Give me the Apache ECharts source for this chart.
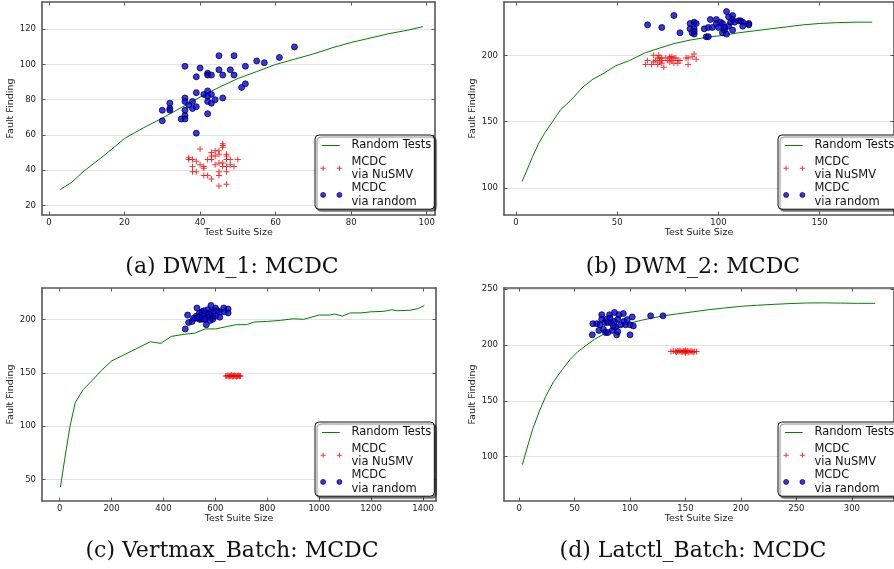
<!DOCTYPE html>
<html>
<head>
<meta charset="utf-8">
<script src="https://cdn.jsdelivr.net/npm/echarts@6/dist/echarts.min.js"></script>
<style>
    html, body { margin: 0; padding: 0; background: #fff; }
    #chart { width: 894px; height: 569px; }
</style>
</head>
<body>
<div id="chart"></div>
<script>
// (a) DWM_1
var dwm1Random = [[3,29],[6,33],[9,39],[12,44],[15,49],[20,58],[25,64],[30,69.5],[35,75.5],[40,81.5],[45,87],[50,92],
    [55,96],[60,100],[65,103],[70,106],[75,109.5],[80,112.5],[85,115],[90,117.5],[95,119.5],[99,121.5]];
var dwm1Nusmv = [[40,52],[46,55],[46,54],[46,53],[43,50],[44,51],[45,51],[44,48],[45,49],[47,49],[47,48],[47,46],
    [37,47],[37,46],[38,46],[42,46],[43,46],[48,46],[50,46],[46,44],[45,44],[44,43],[39,45],[40,43],[38,42],[49,42],
    [41,42],[41,41],[48,43],[46,42],[47,42],[38,39],[39,39],[45,39],[47,39],[41,37],[42,37],[45,37],[43,35],[47,32],
    [45,31],[43,48]];
var dwm1Mcdc = [[30,74],[30,68],[32,78],[32,75],[32,74],[35,69],[36,99],[36,81],[36,79],[36,74],[36,71],[36,69],
    [37,77],[38,79],[38,75],[39,93],[39,84],[39,76],[39,61],[40,98],[41,83],[42,95],[42,94],[42,85],[42,82],[42,79],
    [42,72],[43,94],[43,83],[43,78],[44,80],[45,105],[45,97],[46,94],[46,81],[48,97],[49,105],[49,94],[51,87],[52,99],
    [52,89],[55,102],[57,101],[61,104],[65,110]];
var dwm1XTicks = [0, 20, 40, 60, 80, 100];
var dwm1YTicks = [20, 40, 60, 80, 100, 120];

// (b) DWM_2
var dwm2Random = [[3,105],[5,112],[8,123],[11,133],[14,141],[18,150],[22,159],[27,166],[33,176],[38,182],[44,187],
    [49,192],[56,196],[64,202],[71,205.5],[78.5,209],[86,211.5],[94.5,213.6],[102,215],[110,217],[118,218.5],
    [126,220],[134,221.5],[142,223],[150,224],[158,224.6],[168,225],[176,225]];
var dwm2Nusmv = [[64,193],[65,196],[67,193],[68,200],[68,195],[69,196],[70,198],[70,193],[70.5,200],[71,195],
    [71,198],[72,194],[72,198],[72,196],[73,191],[74,198],[75,196],[76,198],[76,199],[77,199],[77,196],[78,198],
    [79,198],[80,194],[80,196],[81,196],[84,198],[85,193],[85,198],[87,199],[88,201],[89,197],[78,194],[76,195]];
var dwm2Mcdc = [[65,223],[72,221],[78,230],[81,217],[86,220],[86,224],[88,225],[88,220],[88,216],[88,218],[89,224],
    [87,217],[93,220],[94,214],[95,214],[95,221],[96,227],[97,221],[99,227],[99,224],[100,221],[101,225],[102,224],
    [102,217],[103,219],[104,233],[104,216],[105,229],[105,222],[106,225],[107,230],[107,227],[107,219],[108,225],
    [110,226],[111,226],[112,225],[112,222],[115,224],[115,223],[103,221]];
var dwm2XTicks = [0, 50, 100, 150];
var dwm2YTicks = [100, 150, 200];

// (c) Vertmax_Batch
var vertmaxRandom = [[3,43],[20,70],[40,100],[60,122],[90,134],[130,144],[160,152],[200,161],[250,167],[300,173],
    [350,179],[390,177.5],[430,184],[480,186],[520,187],[560,191],[600,191],[640,193],[680,195],[720,195],[750,197.5],
    [800,198],[850,199],[900,200.5],[940,200],[1000,204],[1040,204],[1060,205],[1090,203],[1120,206],[1160,206],
    [1200,207],[1250,207.5],[1280,209],[1300,208],[1350,208.5],[1380,210],[1405,213]];
var vertmaxNusmv = [[640,147],[644,147],[648,147.5],[652,146.5],[655,147],[658,147],[661,148],[664,147],[667,146.5],
    [670,147],[673,147.5],[676,147],[679,147],[682,146.5],[685,147],[688,147.5],[691,147],[694,147],[696,147]];
var vertmaxMcdc = [[484,191],[493,204],[497,197],[510,198],[516,201],[527,203],[529,210.6],[539,206],[539,200],
    [548,207],[548,203],[557,200],[565,206],[565,195],[570,209],[574,202],[583,213],[583,206.5],[591,203],[600,210.6],
    [609,208],[617,206.5],[617,202],[632,210.6],[635,207],[649,209.6],[649,206],[545,200],[550,205],[560,200],
    [575,205],[590,200],[600,203],[555,208],[540,202],[525,201],[580,199],[595,208]];
var vertmaxXTicks = [0, 200, 400, 600, 800, 1000, 1200, 1400];
var vertmaxYTicks = [50, 100, 150, 200];

// (d) Latctl_Batch
var latctlRandom = [[3,93],[7,107],[12,124],[18,140],[24,154],[31,167],[39,178],[46,187],[53,194],[61,200],[68,205],
    [76,209.5],[83,213],[92,216.5],[100,219.5],[110,222],[120,224],[130,226],[142,227.7],[156,229.5],[171,231.5],
    [185,233],[200,234.5],[215,235.5],[230,236.3],[245,237],[259,237.5],[275,237.6],[290,237.4],[305,237.2],[321,237.2]];
var latctlNusmv = [[137,194],[139,194.5],[141,194],[142,193.5],[143,194.5],[144,194],[145,195],[146,194],[147,193.5],
    [148,194.5],[149,194],[150,193],[150,195],[151,194],[152,194.5],[153,193.5],[154,194],[155,194.5],[156,194],
    [157,193.5],[158,194],[160,194]];
var latctlMcdc = [[66,209],[66.5,219],[70,219],[72,213],[73,218],[74.5,227],[74.5,223],[76,214],[77.5,220],[78,211],
    [79,223],[80,211],[80,220],[81.6,227],[83,220],[84,213],[86,229],[86,221],[87,216],[88,209],[89,223],[89,212],
    [90,227],[91.6,218],[94,228],[94.5,221],[96,218],[97.5,222.6],[100,209],[100,218],[102,225],[103,217],[118.6,226],
    [129.7,226],[82,224],[85,217]];
var latctlXTicks = [0, 50, 100, 150, 200, 250, 300];
var latctlYTicks = [100, 150, 200, 250];

var seriesNames = ['Random Tests', 'MCDC via NuSMV', 'MCDC via random'];

// Symbols: the plus marker and the two-marker legend icons (bbox padded to the legend item box)
var plusSymbol = 'path://M2.5,0 H3.5 V2.5 H6 V3.5 H3.5 V6 H2.5 V3.5 H0 V2.5 H2.5 Z';
var lineIcon = 'path://M0,0 M26,6 M1.7,2.5 H19.3 V3.5 H1.7 Z';
var plusIcon = 'path://M0,0 M26,6 M0.2,2.5 H5.2 V3.5 H0.2 Z M2.2,0.5 H3.2 V5.5 H2.2 Z ' +
    'M16.5,2.5 H21.5 V3.5 H16.5 Z M18.5,0.5 H19.5 V5.5 H18.5 Z';
var dotIcon = 'path://M0,0 M26,6 M5.2,3 A2.5,2.5 0 1 1 0.2,3 A2.5,2.5 0 1 1 5.2,3 Z ' +
    'M21.5,3 A2.5,2.5 0 1 1 16.5,3 A2.5,2.5 0 1 1 21.5,3 Z';

var frameColor = '#555';
var sans = 'DejaVu Sans';

var panels = [
    {grid: {left: 42, top: 2, width: 393, height: 213}, x: [-1.85, 102.2], y: [14.5, 135.5],
        xTicks: dwm1XTicks, yTicks: dwm1YTicks, data: [dwm1Random, dwm1Nusmv, dwm1Mcdc],
        legend: {left: 315, top: 135}, caption: {text: '(a) DWM_1: MCDC', left: 227, top: 251}},
    {grid: {left: 504, top: 2, width: 402, height: 213}, x: [-5.95, 186.75], y: [79.6, 240.2],
        xTicks: dwm2XTicks, yTicks: dwm2YTicks, data: [dwm2Random, dwm2Nusmv, dwm2Mcdc],
        legend: {left: 778, top: 135}, caption: {text: '(b) DWM_2: MCDC', left: 688, top: 251}},
    {grid: {left: 42, top: 288, width: 394, height: 213}, x: [-68, 1450], y: [30, 229.3],
        xTicks: vertmaxXTicks, yTicks: vertmaxYTicks, data: [vertmaxRandom, vertmaxNusmv, vertmaxMcdc],
        legend: {left: 315, top: 422}, caption: {text: '(c) Vertmax_Batch: MCDC', left: 227, top: 535}},
    {grid: {left: 504, top: 288, width: 399, height: 213}, x: [-13.6, 338], y: [60.4, 250.9],
        xTicks: latctlXTicks, yTicks: latctlYTicks, data: [latctlRandom, latctlNusmv, latctlMcdc],
        legend: {left: 778, top: 422}, caption: {text: '(d) Latctl_Batch: MCDC', left: 688, top: 535}}
];

/**
 * One value axis. Mirror axes only draw the frame side and the inward ticks.
 */
function makeAxis(dim, gridIndex, range, ticks, mirror) {
    var axis = {
        type: 'value',
        gridIndex: gridIndex,
        min: range[0],
        max: range[1],
        position: dim === 'x' ? (mirror ? 'top' : 'bottom') : (mirror ? 'right' : 'left'),
        axisLine: {show: true, onZero: false, lineStyle: {color: frameColor, width: 1.6}},
        axisTick: {show: true, inside: true, length: 3.5, customValues: ticks,
            lineStyle: {color: frameColor, width: 1}},
        axisLabel: {show: !mirror, customValues: ticks, fontFamily: sans, fontSize: 8.5, color: '#222',
            margin: dim === 'x' ? 3 : 6,
            formatter: function (v) { return String(v); }},
        splitLine: {show: dim === 'y' && !mirror, lineStyle: {color: '#e2e2e2', width: 1}}
    };
    if (!mirror) {
        axis.name = dim === 'x' ? 'Test Suite Size' : 'Fault Finding';
        axis.nameLocation = 'middle';
        axis.nameGap = dim === 'x' ? 12 : 21;
        axis.nameTextStyle = {fontFamily: sans, fontSize: 9.5, color: '#222'};
    }
    return axis;
}

var option = {
    animation: false,
    backgroundColor: '#fff',
    grid: [],
    xAxis: [],
    yAxis: [],
    title: [],
    legend: [],
    series: []
};

panels.forEach(function (p, i) {
    option.grid.push(p.grid);

    // Axes 2i (data) and 2i+1 (mirror frame side)
    option.xAxis.push(makeAxis('x', i, p.x, p.xTicks, false));
    option.xAxis.push(makeAxis('x', i, p.x, p.xTicks, true));
    option.yAxis.push(makeAxis('y', i, p.y, p.yTicks, false));
    option.yAxis.push(makeAxis('y', i, p.y, p.yTicks, true));

    option.title.push({
        text: p.caption.text,
        left: p.caption.left,
        top: p.caption.top,
        textAlign: 'center',
        textStyle: {fontFamily: 'DejaVu Serif', fontSize: 22, fontWeight: 'normal', color: '#111'}
    });

    option.legend.push({
        orient: 'vertical',
        left: p.legend.left,
        top: p.legend.top,
        itemWidth: 26,
        itemHeight: 6,
        itemGap: 0,
        padding: [1, 3, 1, 5],
        backgroundColor: '#fff',
        borderColor: '#111',
        borderWidth: 1,
        borderRadius: 4,
        shadowColor: 'rgba(0,0,0,0.5)',
        shadowBlur: 1,
        shadowOffsetX: 2,
        shadowOffsetY: 2,
        selectedMode: false,
        data: [
            {name: seriesNames[0], icon: lineIcon, itemStyle: {borderWidth: 0}},
            {name: seriesNames[1], icon: plusIcon, itemStyle: {borderWidth: 0}},
            {name: seriesNames[2], icon: dotIcon, itemStyle: {borderWidth: 0.8}}
        ],
        formatter: function (name) {
            if (name === 'Random Tests') {
                return '{a|Random Tests}';
            }
            return name.replace(' via', '\nvia');
        },
        textStyle: {
            fontFamily: sans, fontSize: 11.5, lineHeight: 13.3, color: '#111',
            rich: {a: {fontFamily: sans, fontSize: 11.5, lineHeight: 19, color: '#111'}}
        }
    });

    option.series.push({
        name: seriesNames[0],
        type: 'line',
        xAxisIndex: 2 * i,
        yAxisIndex: 2 * i,
        data: p.data[0],
        symbol: 'none',
        lineStyle: {color: '#008000', width: 1},
        itemStyle: {color: '#008000'},
        z: 2
    });
    option.series.push({
        name: seriesNames[1],
        type: 'scatter',
        xAxisIndex: 2 * i,
        yAxisIndex: 2 * i,
        data: p.data[1],
        symbol: plusSymbol,
        symbolSize: 6,
        itemStyle: {color: '#ff0000'},
        z: 3
    });
    option.series.push({
        name: seriesNames[2],
        type: 'scatter',
        xAxisIndex: 2 * i,
        yAxisIndex: 2 * i,
        data: p.data[2],
        symbol: 'circle',
        symbolSize: 6,
        itemStyle: {color: '#0000ff', borderColor: '#000', borderWidth: 0.9},
        z: 4
    });
});

var chart = echarts.init(document.getElementById('chart'), null, {renderer: 'canvas'});
chart.setOption(option);
</script>
</body>
</html>
